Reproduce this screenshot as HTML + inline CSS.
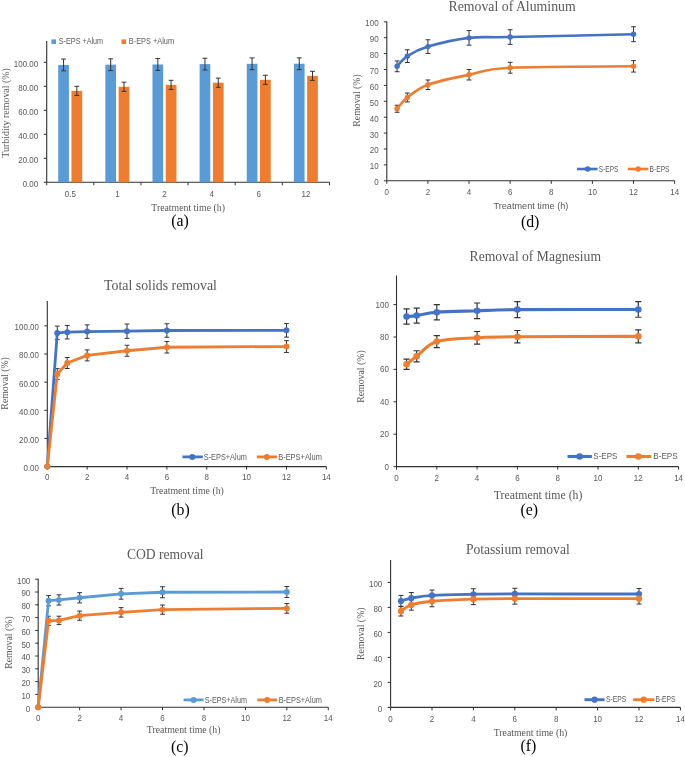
<!DOCTYPE html><html><head><meta charset="utf-8"><style>html,body{margin:0;padding:0;background:#fff;width:685px;height:757px;overflow:hidden}svg{display:block;will-change:transform}</style></head><body>
<svg width="685" height="757" viewBox="0 0 685 757">
<rect width="685" height="757" fill="#fff"/>
<line x1="46.7" y1="41" x2="46.7" y2="182.3" stroke="#303030" stroke-width="1.1"/>
<line x1="46.7" y1="182.3" x2="329.48" y2="182.3" stroke="#303030" stroke-width="1.1"/>
<line x1="43.7" y1="182.30" x2="46.7" y2="182.30" stroke="#303030" stroke-width="1"/>
<text transform="translate(38.2,186.70) scale(0.93,1)" text-anchor="end" font-family="Liberation Sans" font-size="8.6" fill="#595959">0.00</text>
<line x1="43.7" y1="158.30" x2="46.7" y2="158.30" stroke="#303030" stroke-width="1"/>
<text transform="translate(38.2,162.70) scale(0.93,1)" text-anchor="end" font-family="Liberation Sans" font-size="8.6" fill="#595959">20.00</text>
<line x1="43.7" y1="134.30" x2="46.7" y2="134.30" stroke="#303030" stroke-width="1"/>
<text transform="translate(38.2,138.70) scale(0.93,1)" text-anchor="end" font-family="Liberation Sans" font-size="8.6" fill="#595959">40.00</text>
<line x1="43.7" y1="110.30" x2="46.7" y2="110.30" stroke="#303030" stroke-width="1"/>
<text transform="translate(38.2,114.70) scale(0.93,1)" text-anchor="end" font-family="Liberation Sans" font-size="8.6" fill="#595959">60.00</text>
<line x1="43.7" y1="86.30" x2="46.7" y2="86.30" stroke="#303030" stroke-width="1"/>
<text transform="translate(38.2,90.70) scale(0.93,1)" text-anchor="end" font-family="Liberation Sans" font-size="8.6" fill="#595959">80.00</text>
<line x1="43.7" y1="62.30" x2="46.7" y2="62.30" stroke="#303030" stroke-width="1"/>
<text transform="translate(38.2,66.70) scale(0.93,1)" text-anchor="end" font-family="Liberation Sans" font-size="8.6" fill="#595959">100.00</text>
<line x1="46.70" y1="182.3" x2="46.70" y2="185.3" stroke="#303030" stroke-width="1"/>
<line x1="93.83" y1="182.3" x2="93.83" y2="185.3" stroke="#303030" stroke-width="1"/>
<line x1="140.96" y1="182.3" x2="140.96" y2="185.3" stroke="#303030" stroke-width="1"/>
<line x1="188.09" y1="182.3" x2="188.09" y2="185.3" stroke="#303030" stroke-width="1"/>
<line x1="235.22" y1="182.3" x2="235.22" y2="185.3" stroke="#303030" stroke-width="1"/>
<line x1="282.35" y1="182.3" x2="282.35" y2="185.3" stroke="#303030" stroke-width="1"/>
<line x1="329.48" y1="182.3" x2="329.48" y2="185.3" stroke="#303030" stroke-width="1"/>
<rect x="58.22" y="64.94" width="10.70" height="117.36" fill="#5B9BD5"/>
<path d="M63.57,59.06V70.82M61.17,59.06H65.97M61.17,70.82H65.97" stroke="#333333" stroke-width="1" fill="none"/>
<rect x="71.47" y="90.86" width="10.75" height="91.44" fill="#ED7D31"/>
<path d="M76.84,86.30V95.42M74.44,86.30H79.24M74.44,95.42H79.24" stroke="#333333" stroke-width="1" fill="none"/>
<text transform="translate(70.27,196.9) scale(0.93,1)" text-anchor="middle" font-family="Liberation Sans" font-size="8.6" fill="#595959">0.5</text>
<rect x="105.35" y="64.70" width="10.70" height="117.60" fill="#5B9BD5"/>
<path d="M110.70,58.82V70.58M108.30,58.82H113.10M108.30,70.58H113.10" stroke="#333333" stroke-width="1" fill="none"/>
<rect x="118.60" y="86.78" width="10.75" height="95.52" fill="#ED7D31"/>
<path d="M123.97,82.22V91.34M121.57,82.22H126.37M121.57,91.34H126.37" stroke="#333333" stroke-width="1" fill="none"/>
<text transform="translate(117.40,196.9) scale(0.93,1)" text-anchor="middle" font-family="Liberation Sans" font-size="8.6" fill="#595959">1</text>
<rect x="152.47" y="64.46" width="10.70" height="117.84" fill="#5B9BD5"/>
<path d="M157.82,58.58V70.34M155.42,58.58H160.22M155.42,70.34H160.22" stroke="#333333" stroke-width="1" fill="none"/>
<rect x="165.72" y="84.86" width="10.75" height="97.44" fill="#ED7D31"/>
<path d="M171.10,80.30V89.42M168.70,80.30H173.50M168.70,89.42H173.50" stroke="#333333" stroke-width="1" fill="none"/>
<text transform="translate(164.53,196.9) scale(0.93,1)" text-anchor="middle" font-family="Liberation Sans" font-size="8.6" fill="#595959">2</text>
<rect x="199.61" y="64.10" width="10.70" height="118.20" fill="#5B9BD5"/>
<path d="M204.96,58.22V69.98M202.56,58.22H207.36M202.56,69.98H207.36" stroke="#333333" stroke-width="1" fill="none"/>
<rect x="212.86" y="82.70" width="10.75" height="99.60" fill="#ED7D31"/>
<path d="M218.23,78.14V87.26M215.83,78.14H220.63M215.83,87.26H220.63" stroke="#333333" stroke-width="1" fill="none"/>
<text transform="translate(211.66,196.9) scale(0.93,1)" text-anchor="middle" font-family="Liberation Sans" font-size="8.6" fill="#595959">4</text>
<rect x="246.74" y="63.80" width="10.70" height="118.50" fill="#5B9BD5"/>
<path d="M252.09,57.92V69.68M249.69,57.92H254.49M249.69,69.68H254.49" stroke="#333333" stroke-width="1" fill="none"/>
<rect x="259.99" y="79.82" width="10.75" height="102.48" fill="#ED7D31"/>
<path d="M265.36,75.26V84.38M262.96,75.26H267.76M262.96,84.38H267.76" stroke="#333333" stroke-width="1" fill="none"/>
<text transform="translate(258.79,196.9) scale(0.93,1)" text-anchor="middle" font-family="Liberation Sans" font-size="8.6" fill="#595959">6</text>
<rect x="293.87" y="63.74" width="10.70" height="118.56" fill="#5B9BD5"/>
<path d="M299.22,57.86V69.62M296.82,57.86H301.62M296.82,69.62H301.62" stroke="#333333" stroke-width="1" fill="none"/>
<rect x="307.12" y="75.86" width="10.75" height="106.44" fill="#ED7D31"/>
<path d="M312.49,71.30V80.42M310.09,71.30H314.89M310.09,80.42H314.89" stroke="#333333" stroke-width="1" fill="none"/>
<text transform="translate(305.92,196.9) scale(0.93,1)" text-anchor="middle" font-family="Liberation Sans" font-size="8.6" fill="#595959">12</text>
<rect x="51.4" y="39.4" width="4.6" height="4.6" fill="#5B9BD5"/>
<text x="58.8" y="44.4" text-anchor="start" font-family="Liberation Sans" font-size="8.6" fill="#595959" textLength="44.3" lengthAdjust="spacingAndGlyphs">S-EPS +Alum</text>
<rect x="121.5" y="39.4" width="4.6" height="4.6" fill="#ED7D31"/>
<text x="128.8" y="44.4" text-anchor="start" font-family="Liberation Sans" font-size="8.6" fill="#595959" textLength="45.3" lengthAdjust="spacingAndGlyphs">B-EPS +Alum</text>
<text x="188.1" y="210.6" text-anchor="middle" font-family="Liberation Serif" font-size="9.8" fill="#595959">Treatment time (h)</text>
<text transform="translate(8.5,112.9) rotate(-90)" text-anchor="middle" font-family="Liberation Serif" font-size="9.95" fill="#595959">Turbidity removal (%)</text>
<text x="180" y="226" text-anchor="middle" font-family="Liberation Serif" font-size="15.8" fill="#000">(a)</text>
<line x1="47.3" y1="301" x2="47.3" y2="466.6" stroke="#303030" stroke-width="1.1"/>
<line x1="47.3" y1="466.6" x2="326.32" y2="466.6" stroke="#303030" stroke-width="1.1"/>
<line x1="44.3" y1="466.60" x2="47.3" y2="466.60" stroke="#303030" stroke-width="1"/>
<text transform="translate(39,471.00) scale(0.93,1)" text-anchor="end" font-family="Liberation Sans" font-size="8.6" fill="#595959">0.00</text>
<line x1="44.3" y1="438.45" x2="47.3" y2="438.45" stroke="#303030" stroke-width="1"/>
<text transform="translate(39,442.85) scale(0.93,1)" text-anchor="end" font-family="Liberation Sans" font-size="8.6" fill="#595959">20.00</text>
<line x1="44.3" y1="410.30" x2="47.3" y2="410.30" stroke="#303030" stroke-width="1"/>
<text transform="translate(39,414.70) scale(0.93,1)" text-anchor="end" font-family="Liberation Sans" font-size="8.6" fill="#595959">40.00</text>
<line x1="44.3" y1="382.15" x2="47.3" y2="382.15" stroke="#303030" stroke-width="1"/>
<text transform="translate(39,386.55) scale(0.93,1)" text-anchor="end" font-family="Liberation Sans" font-size="8.6" fill="#595959">60.00</text>
<line x1="44.3" y1="354.00" x2="47.3" y2="354.00" stroke="#303030" stroke-width="1"/>
<text transform="translate(39,358.40) scale(0.93,1)" text-anchor="end" font-family="Liberation Sans" font-size="8.6" fill="#595959">80.00</text>
<line x1="44.3" y1="325.85" x2="47.3" y2="325.85" stroke="#303030" stroke-width="1"/>
<text transform="translate(39,330.25) scale(0.93,1)" text-anchor="end" font-family="Liberation Sans" font-size="8.6" fill="#595959">100.00</text>
<line x1="47.30" y1="466.6" x2="47.30" y2="469.6" stroke="#303030" stroke-width="1"/>
<text transform="translate(47.30,480) scale(0.93,1)" text-anchor="middle" font-family="Liberation Sans" font-size="8.6" fill="#595959">0</text>
<line x1="87.16" y1="466.6" x2="87.16" y2="469.6" stroke="#303030" stroke-width="1"/>
<text transform="translate(87.16,480) scale(0.93,1)" text-anchor="middle" font-family="Liberation Sans" font-size="8.6" fill="#595959">2</text>
<line x1="127.02" y1="466.6" x2="127.02" y2="469.6" stroke="#303030" stroke-width="1"/>
<text transform="translate(127.02,480) scale(0.93,1)" text-anchor="middle" font-family="Liberation Sans" font-size="8.6" fill="#595959">4</text>
<line x1="166.88" y1="466.6" x2="166.88" y2="469.6" stroke="#303030" stroke-width="1"/>
<text transform="translate(166.88,480) scale(0.93,1)" text-anchor="middle" font-family="Liberation Sans" font-size="8.6" fill="#595959">6</text>
<line x1="206.74" y1="466.6" x2="206.74" y2="469.6" stroke="#303030" stroke-width="1"/>
<text transform="translate(206.74,480) scale(0.93,1)" text-anchor="middle" font-family="Liberation Sans" font-size="8.6" fill="#595959">8</text>
<line x1="246.60" y1="466.6" x2="246.60" y2="469.6" stroke="#303030" stroke-width="1"/>
<text transform="translate(246.60,480) scale(0.93,1)" text-anchor="middle" font-family="Liberation Sans" font-size="8.6" fill="#595959">10</text>
<line x1="286.46" y1="466.6" x2="286.46" y2="469.6" stroke="#303030" stroke-width="1"/>
<text transform="translate(286.46,480) scale(0.93,1)" text-anchor="middle" font-family="Liberation Sans" font-size="8.6" fill="#595959">12</text>
<line x1="326.32" y1="466.6" x2="326.32" y2="469.6" stroke="#303030" stroke-width="1"/>
<text transform="translate(326.32,480) scale(0.93,1)" text-anchor="middle" font-family="Liberation Sans" font-size="8.6" fill="#595959">14</text>
<path d="M57.27,326.13V339.64M54.87,326.13H59.66M54.87,339.64H59.66" stroke="#333333" stroke-width="1" fill="none"/>
<path d="M67.23,325.43V338.94M64.83,325.43H69.63M64.83,338.94H69.63" stroke="#333333" stroke-width="1" fill="none"/>
<path d="M87.16,324.86V338.38M84.76,324.86H89.56M84.76,338.38H89.56" stroke="#333333" stroke-width="1" fill="none"/>
<path d="M127.02,324.02V338.38M124.62,324.02H129.42M124.62,338.38H129.42" stroke="#333333" stroke-width="1" fill="none"/>
<path d="M166.88,323.74V337.25M164.48,323.74H169.28M164.48,337.25H169.28" stroke="#333333" stroke-width="1" fill="none"/>
<path d="M286.46,323.60V337.11M284.06,323.60H288.86M284.06,337.11H288.86" stroke="#333333" stroke-width="1" fill="none"/>
<path d="M57.27,368.64V379.62M54.87,368.64H59.66M54.87,379.62H59.66" stroke="#333333" stroke-width="1" fill="none"/>
<path d="M67.23,357.52V368.50M64.83,357.52H69.63M64.83,368.50H69.63" stroke="#333333" stroke-width="1" fill="none"/>
<path d="M87.16,349.92V360.90M84.76,349.92H89.56M84.76,360.90H89.56" stroke="#333333" stroke-width="1" fill="none"/>
<path d="M127.02,345.27V356.25M124.62,345.27H129.42M124.62,356.25H129.42" stroke="#333333" stroke-width="1" fill="none"/>
<path d="M166.88,341.47V353.01M164.48,341.47H169.28M164.48,353.01H169.28" stroke="#333333" stroke-width="1" fill="none"/>
<path d="M286.46,340.63V352.45M284.06,340.63H288.86M284.06,352.45H288.86" stroke="#333333" stroke-width="1" fill="none"/>
<path d="M47.30,466.60 L57.27,332.89 L67.23,332.18 L87.16,331.62 L127.02,331.20 L166.88,330.49 L286.46,330.35" stroke="#4472C4" stroke-width="2.8" fill="none" stroke-linejoin="round"/>
<circle cx="47.30" cy="466.60" r="3" fill="#4472C4"/>
<circle cx="57.27" cy="332.89" r="3" fill="#4472C4"/>
<circle cx="67.23" cy="332.18" r="3" fill="#4472C4"/>
<circle cx="87.16" cy="331.62" r="3" fill="#4472C4"/>
<circle cx="127.02" cy="331.20" r="3" fill="#4472C4"/>
<circle cx="166.88" cy="330.49" r="3" fill="#4472C4"/>
<circle cx="286.46" cy="330.35" r="3" fill="#4472C4"/>
<path d="M47.30,466.60 L57.27,374.13 L67.23,363.01 L87.16,355.41 L127.02,350.76 L166.88,347.24 L286.46,346.54" stroke="#ED7D31" stroke-width="2.8" fill="none" stroke-linejoin="round"/>
<circle cx="47.30" cy="466.60" r="3" fill="#ED7D31"/>
<circle cx="57.27" cy="374.13" r="3" fill="#ED7D31"/>
<circle cx="67.23" cy="363.01" r="3" fill="#ED7D31"/>
<circle cx="87.16" cy="355.41" r="3" fill="#ED7D31"/>
<circle cx="127.02" cy="350.76" r="3" fill="#ED7D31"/>
<circle cx="166.88" cy="347.24" r="3" fill="#ED7D31"/>
<circle cx="286.46" cy="346.54" r="3" fill="#ED7D31"/>
<line x1="182.4" y1="456.9" x2="202.8" y2="456.9" stroke="#4472C4" stroke-width="2.8"/>
<circle cx="192.3" cy="456.9" r="3" fill="#4472C4"/>
<text x="203.7" y="459.59999999999997" text-anchor="start" font-family="Liberation Sans" font-size="8.2" fill="#595959" textLength="43.2" lengthAdjust="spacingAndGlyphs">S-EPS+Alum</text>
<line x1="256.8" y1="456.9" x2="277.2" y2="456.9" stroke="#ED7D31" stroke-width="2.8"/>
<circle cx="266.9" cy="456.9" r="3" fill="#ED7D31"/>
<text x="278.2" y="459.59999999999997" text-anchor="start" font-family="Liberation Sans" font-size="8.2" fill="#595959" textLength="43.7" lengthAdjust="spacingAndGlyphs">B-EPS+Alum</text>
<text x="160.5" y="290.4" text-anchor="middle" font-family="Liberation Serif" font-size="13.85" fill="#595959">Total solids removal</text>
<text x="187" y="493.8" text-anchor="middle" font-family="Liberation Serif" font-size="9.8" fill="#595959">Treatment time (h)</text>
<text transform="translate(8.1,383.4) rotate(-90)" text-anchor="middle" font-family="Liberation Serif" font-size="9.8" fill="#595959">Removal (%)</text>
<text x="180.5" y="514.5" text-anchor="middle" font-family="Liberation Serif" font-size="15.8" fill="#000">(b)</text>
<line x1="38.2" y1="578.8" x2="38.2" y2="707.2" stroke="#303030" stroke-width="1.1"/>
<line x1="38.2" y1="707.2" x2="328.28" y2="707.2" stroke="#303030" stroke-width="1.1"/>
<line x1="35.2" y1="707.20" x2="38.2" y2="707.20" stroke="#303030" stroke-width="1"/>
<text transform="translate(30.3,711.60) scale(0.93,1)" text-anchor="end" font-family="Liberation Sans" font-size="8.6" fill="#595959">0</text>
<line x1="35.2" y1="694.40" x2="38.2" y2="694.40" stroke="#303030" stroke-width="1"/>
<text transform="translate(30.3,698.80) scale(0.93,1)" text-anchor="end" font-family="Liberation Sans" font-size="8.6" fill="#595959">10</text>
<line x1="35.2" y1="681.60" x2="38.2" y2="681.60" stroke="#303030" stroke-width="1"/>
<text transform="translate(30.3,686.00) scale(0.93,1)" text-anchor="end" font-family="Liberation Sans" font-size="8.6" fill="#595959">20</text>
<line x1="35.2" y1="668.80" x2="38.2" y2="668.80" stroke="#303030" stroke-width="1"/>
<text transform="translate(30.3,673.20) scale(0.93,1)" text-anchor="end" font-family="Liberation Sans" font-size="8.6" fill="#595959">30</text>
<line x1="35.2" y1="656.00" x2="38.2" y2="656.00" stroke="#303030" stroke-width="1"/>
<text transform="translate(30.3,660.40) scale(0.93,1)" text-anchor="end" font-family="Liberation Sans" font-size="8.6" fill="#595959">40</text>
<line x1="35.2" y1="643.20" x2="38.2" y2="643.20" stroke="#303030" stroke-width="1"/>
<text transform="translate(30.3,647.60) scale(0.93,1)" text-anchor="end" font-family="Liberation Sans" font-size="8.6" fill="#595959">50</text>
<line x1="35.2" y1="630.40" x2="38.2" y2="630.40" stroke="#303030" stroke-width="1"/>
<text transform="translate(30.3,634.80) scale(0.93,1)" text-anchor="end" font-family="Liberation Sans" font-size="8.6" fill="#595959">60</text>
<line x1="35.2" y1="617.60" x2="38.2" y2="617.60" stroke="#303030" stroke-width="1"/>
<text transform="translate(30.3,622.00) scale(0.93,1)" text-anchor="end" font-family="Liberation Sans" font-size="8.6" fill="#595959">70</text>
<line x1="35.2" y1="604.80" x2="38.2" y2="604.80" stroke="#303030" stroke-width="1"/>
<text transform="translate(30.3,609.20) scale(0.93,1)" text-anchor="end" font-family="Liberation Sans" font-size="8.6" fill="#595959">80</text>
<line x1="35.2" y1="592.00" x2="38.2" y2="592.00" stroke="#303030" stroke-width="1"/>
<text transform="translate(30.3,596.40) scale(0.93,1)" text-anchor="end" font-family="Liberation Sans" font-size="8.6" fill="#595959">90</text>
<line x1="35.2" y1="579.20" x2="38.2" y2="579.20" stroke="#303030" stroke-width="1"/>
<text transform="translate(30.3,583.60) scale(0.93,1)" text-anchor="end" font-family="Liberation Sans" font-size="8.6" fill="#595959">100</text>
<line x1="38.20" y1="707.2" x2="38.20" y2="710.2" stroke="#303030" stroke-width="1"/>
<text transform="translate(38.20,721) scale(0.93,1)" text-anchor="middle" font-family="Liberation Sans" font-size="8.6" fill="#595959">0</text>
<line x1="79.64" y1="707.2" x2="79.64" y2="710.2" stroke="#303030" stroke-width="1"/>
<text transform="translate(79.64,721) scale(0.93,1)" text-anchor="middle" font-family="Liberation Sans" font-size="8.6" fill="#595959">2</text>
<line x1="121.08" y1="707.2" x2="121.08" y2="710.2" stroke="#303030" stroke-width="1"/>
<text transform="translate(121.08,721) scale(0.93,1)" text-anchor="middle" font-family="Liberation Sans" font-size="8.6" fill="#595959">4</text>
<line x1="162.52" y1="707.2" x2="162.52" y2="710.2" stroke="#303030" stroke-width="1"/>
<text transform="translate(162.52,721) scale(0.93,1)" text-anchor="middle" font-family="Liberation Sans" font-size="8.6" fill="#595959">6</text>
<line x1="203.96" y1="707.2" x2="203.96" y2="710.2" stroke="#303030" stroke-width="1"/>
<text transform="translate(203.96,721) scale(0.93,1)" text-anchor="middle" font-family="Liberation Sans" font-size="8.6" fill="#595959">8</text>
<line x1="245.40" y1="707.2" x2="245.40" y2="710.2" stroke="#303030" stroke-width="1"/>
<text transform="translate(245.40,721) scale(0.93,1)" text-anchor="middle" font-family="Liberation Sans" font-size="8.6" fill="#595959">10</text>
<line x1="286.84" y1="707.2" x2="286.84" y2="710.2" stroke="#303030" stroke-width="1"/>
<text transform="translate(286.84,721) scale(0.93,1)" text-anchor="middle" font-family="Liberation Sans" font-size="8.6" fill="#595959">12</text>
<line x1="328.28" y1="707.2" x2="328.28" y2="710.2" stroke="#303030" stroke-width="1"/>
<text transform="translate(328.28,721) scale(0.93,1)" text-anchor="middle" font-family="Liberation Sans" font-size="8.6" fill="#595959">14</text>
<path d="M48.56,595.58V605.82M46.16,595.58H50.96M46.16,605.82H50.96" stroke="#333333" stroke-width="1" fill="none"/>
<path d="M58.92,594.82V605.06M56.52,594.82H61.32M56.52,605.06H61.32" stroke="#333333" stroke-width="1" fill="none"/>
<path d="M79.64,592.64V602.88M77.24,592.64H82.04M77.24,602.88H82.04" stroke="#333333" stroke-width="1" fill="none"/>
<path d="M121.08,588.42V599.17M118.68,588.42H123.48M118.68,599.17H123.48" stroke="#333333" stroke-width="1" fill="none"/>
<path d="M162.52,586.75V597.76M160.12,586.75H164.92M160.12,597.76H164.92" stroke="#333333" stroke-width="1" fill="none"/>
<path d="M286.84,586.50V597.50M284.44,586.50H289.24M284.44,597.50H289.24" stroke="#333333" stroke-width="1" fill="none"/>
<path d="M48.56,616.19V625.41M46.16,616.19H50.96M46.16,625.41H50.96" stroke="#333333" stroke-width="1" fill="none"/>
<path d="M58.92,616.19V624.64M56.52,616.19H61.32M56.52,624.64H61.32" stroke="#333333" stroke-width="1" fill="none"/>
<path d="M79.64,611.07V620.29M77.24,611.07H82.04M77.24,620.29H82.04" stroke="#333333" stroke-width="1" fill="none"/>
<path d="M121.08,607.62V617.09M118.68,607.62H123.48M118.68,617.09H123.48" stroke="#333333" stroke-width="1" fill="none"/>
<path d="M162.52,605.06V614.27M160.12,605.06H164.92M160.12,614.27H164.92" stroke="#333333" stroke-width="1" fill="none"/>
<path d="M286.84,603.52V613.25M284.44,603.52H289.24M284.44,613.25H289.24" stroke="#333333" stroke-width="1" fill="none"/>
<path d="M38.20,707.20 L48.56,600.70 L58.92,599.94 L79.64,597.76 L121.08,593.79 L162.52,592.26 L286.84,592.00" stroke="#5B9BD5" stroke-width="2.8" fill="none" stroke-linejoin="round"/>
<circle cx="38.20" cy="707.20" r="3" fill="#5B9BD5"/>
<circle cx="48.56" cy="600.70" r="3" fill="#5B9BD5"/>
<circle cx="58.92" cy="599.94" r="3" fill="#5B9BD5"/>
<circle cx="79.64" cy="597.76" r="3" fill="#5B9BD5"/>
<circle cx="121.08" cy="593.79" r="3" fill="#5B9BD5"/>
<circle cx="162.52" cy="592.26" r="3" fill="#5B9BD5"/>
<circle cx="286.84" cy="592.00" r="3" fill="#5B9BD5"/>
<path d="M38.20,707.20 L48.56,620.80 L58.92,620.42 L79.64,615.68 L121.08,612.35 L162.52,609.66 L286.84,608.38" stroke="#ED7D31" stroke-width="2.8" fill="none" stroke-linejoin="round"/>
<circle cx="38.20" cy="707.20" r="3" fill="#ED7D31"/>
<circle cx="48.56" cy="620.80" r="3" fill="#ED7D31"/>
<circle cx="58.92" cy="620.42" r="3" fill="#ED7D31"/>
<circle cx="79.64" cy="615.68" r="3" fill="#ED7D31"/>
<circle cx="121.08" cy="612.35" r="3" fill="#ED7D31"/>
<circle cx="162.52" cy="609.66" r="3" fill="#ED7D31"/>
<circle cx="286.84" cy="608.38" r="3" fill="#ED7D31"/>
<line x1="183.6" y1="699.9" x2="203.5" y2="699.9" stroke="#5B9BD5" stroke-width="2.8"/>
<circle cx="193.5" cy="699.9" r="3" fill="#5B9BD5"/>
<text x="204.7" y="702.6" text-anchor="start" font-family="Liberation Sans" font-size="8.2" fill="#595959" textLength="42.2" lengthAdjust="spacingAndGlyphs">S-EPS+Alum</text>
<line x1="257.3" y1="699.9" x2="277.2" y2="699.9" stroke="#ED7D31" stroke-width="2.8"/>
<circle cx="267.2" cy="699.9" r="3" fill="#ED7D31"/>
<text x="278.7" y="702.6" text-anchor="start" font-family="Liberation Sans" font-size="8.2" fill="#595959" textLength="43.2" lengthAdjust="spacingAndGlyphs">B-EPS+Alum</text>
<text x="165.2" y="559.4" text-anchor="middle" font-family="Liberation Serif" font-size="13.6" fill="#595959">COD removal</text>
<text x="183.7" y="733.4" text-anchor="middle" font-family="Liberation Serif" font-size="9.8" fill="#595959">Treatment time (h)</text>
<text transform="translate(11.8,642.6) rotate(-90)" text-anchor="middle" font-family="Liberation Serif" font-size="9.8" fill="#595959">Removal (%)</text>
<text x="179.8" y="751.5" text-anchor="middle" font-family="Liberation Serif" font-size="15.8" fill="#000">(c)</text>
<line x1="386.8" y1="21.6" x2="386.8" y2="180.8" stroke="#303030" stroke-width="1.1"/>
<line x1="386.8" y1="180.8" x2="674.64" y2="180.8" stroke="#303030" stroke-width="1.1"/>
<line x1="383.8" y1="180.80" x2="386.8" y2="180.80" stroke="#303030" stroke-width="1"/>
<text transform="translate(378.6,185.20) scale(0.93,1)" text-anchor="end" font-family="Liberation Sans" font-size="8.6" fill="#595959">0</text>
<line x1="383.8" y1="164.90" x2="386.8" y2="164.90" stroke="#303030" stroke-width="1"/>
<text transform="translate(378.6,169.30) scale(0.93,1)" text-anchor="end" font-family="Liberation Sans" font-size="8.6" fill="#595959">10</text>
<line x1="383.8" y1="149.00" x2="386.8" y2="149.00" stroke="#303030" stroke-width="1"/>
<text transform="translate(378.6,153.40) scale(0.93,1)" text-anchor="end" font-family="Liberation Sans" font-size="8.6" fill="#595959">20</text>
<line x1="383.8" y1="133.10" x2="386.8" y2="133.10" stroke="#303030" stroke-width="1"/>
<text transform="translate(378.6,137.50) scale(0.93,1)" text-anchor="end" font-family="Liberation Sans" font-size="8.6" fill="#595959">30</text>
<line x1="383.8" y1="117.20" x2="386.8" y2="117.20" stroke="#303030" stroke-width="1"/>
<text transform="translate(378.6,121.60) scale(0.93,1)" text-anchor="end" font-family="Liberation Sans" font-size="8.6" fill="#595959">40</text>
<line x1="383.8" y1="101.30" x2="386.8" y2="101.30" stroke="#303030" stroke-width="1"/>
<text transform="translate(378.6,105.70) scale(0.93,1)" text-anchor="end" font-family="Liberation Sans" font-size="8.6" fill="#595959">50</text>
<line x1="383.8" y1="85.40" x2="386.8" y2="85.40" stroke="#303030" stroke-width="1"/>
<text transform="translate(378.6,89.80) scale(0.93,1)" text-anchor="end" font-family="Liberation Sans" font-size="8.6" fill="#595959">60</text>
<line x1="383.8" y1="69.50" x2="386.8" y2="69.50" stroke="#303030" stroke-width="1"/>
<text transform="translate(378.6,73.90) scale(0.93,1)" text-anchor="end" font-family="Liberation Sans" font-size="8.6" fill="#595959">70</text>
<line x1="383.8" y1="53.60" x2="386.8" y2="53.60" stroke="#303030" stroke-width="1"/>
<text transform="translate(378.6,58.00) scale(0.93,1)" text-anchor="end" font-family="Liberation Sans" font-size="8.6" fill="#595959">80</text>
<line x1="383.8" y1="37.70" x2="386.8" y2="37.70" stroke="#303030" stroke-width="1"/>
<text transform="translate(378.6,42.10) scale(0.93,1)" text-anchor="end" font-family="Liberation Sans" font-size="8.6" fill="#595959">90</text>
<line x1="383.8" y1="21.80" x2="386.8" y2="21.80" stroke="#303030" stroke-width="1"/>
<text transform="translate(378.6,26.20) scale(0.93,1)" text-anchor="end" font-family="Liberation Sans" font-size="8.6" fill="#595959">100</text>
<line x1="386.80" y1="180.8" x2="386.80" y2="183.8" stroke="#303030" stroke-width="1"/>
<text transform="translate(386.80,195) scale(0.93,1)" text-anchor="middle" font-family="Liberation Sans" font-size="8.6" fill="#595959">0</text>
<line x1="427.92" y1="180.8" x2="427.92" y2="183.8" stroke="#303030" stroke-width="1"/>
<text transform="translate(427.92,195) scale(0.93,1)" text-anchor="middle" font-family="Liberation Sans" font-size="8.6" fill="#595959">2</text>
<line x1="469.04" y1="180.8" x2="469.04" y2="183.8" stroke="#303030" stroke-width="1"/>
<text transform="translate(469.04,195) scale(0.93,1)" text-anchor="middle" font-family="Liberation Sans" font-size="8.6" fill="#595959">4</text>
<line x1="510.16" y1="180.8" x2="510.16" y2="183.8" stroke="#303030" stroke-width="1"/>
<text transform="translate(510.16,195) scale(0.93,1)" text-anchor="middle" font-family="Liberation Sans" font-size="8.6" fill="#595959">6</text>
<line x1="551.28" y1="180.8" x2="551.28" y2="183.8" stroke="#303030" stroke-width="1"/>
<text transform="translate(551.28,195) scale(0.93,1)" text-anchor="middle" font-family="Liberation Sans" font-size="8.6" fill="#595959">8</text>
<line x1="592.40" y1="180.8" x2="592.40" y2="183.8" stroke="#303030" stroke-width="1"/>
<text transform="translate(592.40,195) scale(0.93,1)" text-anchor="middle" font-family="Liberation Sans" font-size="8.6" fill="#595959">10</text>
<line x1="633.52" y1="180.8" x2="633.52" y2="183.8" stroke="#303030" stroke-width="1"/>
<text transform="translate(633.52,195) scale(0.93,1)" text-anchor="middle" font-family="Liberation Sans" font-size="8.6" fill="#595959">12</text>
<line x1="674.64" y1="180.8" x2="674.64" y2="183.8" stroke="#303030" stroke-width="1"/>
<text transform="translate(674.64,195) scale(0.93,1)" text-anchor="middle" font-family="Liberation Sans" font-size="8.6" fill="#595959">14</text>
<path d="M397.08,60.91V71.73M394.68,60.91H399.48M394.68,71.73H399.48" stroke="#333333" stroke-width="1" fill="none"/>
<path d="M407.36,49.78V62.50M404.96,49.78H409.76M404.96,62.50H409.76" stroke="#333333" stroke-width="1" fill="none"/>
<path d="M427.92,39.77V53.44M425.52,39.77H430.32M425.52,53.44H430.32" stroke="#333333" stroke-width="1" fill="none"/>
<path d="M469.04,30.55V45.17M466.64,30.55H471.44M466.64,45.17H471.44" stroke="#333333" stroke-width="1" fill="none"/>
<path d="M510.16,29.75V44.38M507.76,29.75H512.56M507.76,44.38H512.56" stroke="#333333" stroke-width="1" fill="none"/>
<path d="M633.52,26.73V41.68M631.12,26.73H635.92M631.12,41.68H635.92" stroke="#333333" stroke-width="1" fill="none"/>
<path d="M397.08,105.28V112.27M394.68,105.28H399.48M394.68,112.27H399.48" stroke="#333333" stroke-width="1" fill="none"/>
<path d="M407.36,93.03V101.94M404.96,93.03H409.76M404.96,101.94H409.76" stroke="#333333" stroke-width="1" fill="none"/>
<path d="M427.92,79.99V89.53M425.52,79.99H430.32M425.52,89.53H430.32" stroke="#333333" stroke-width="1" fill="none"/>
<path d="M469.04,69.50V79.99M466.64,69.50H471.44M466.64,79.99H471.44" stroke="#333333" stroke-width="1" fill="none"/>
<path d="M510.16,62.34V73.16M507.76,62.34H512.56M507.76,73.16H512.56" stroke="#333333" stroke-width="1" fill="none"/>
<path d="M633.52,60.60V72.04M631.12,60.60H635.92M631.12,72.04H635.92" stroke="#333333" stroke-width="1" fill="none"/>
<path d="M397.08,66.32 C398.79,64.62 402.22,59.43 407.36,56.14 C412.50,52.86 417.64,49.65 427.92,46.60 C438.20,43.56 455.33,39.45 469.04,37.86 C482.75,36.27 482.75,37.67 510.16,37.06 C537.57,36.45 612.96,34.68 633.52,34.20" stroke="#4472C4" stroke-width="2.6" fill="none" stroke-linejoin="round"/>
<circle cx="397.08" cy="66.32" r="2.7" fill="#4472C4"/>
<circle cx="407.36" cy="56.14" r="2.7" fill="#4472C4"/>
<circle cx="427.92" cy="46.60" r="2.7" fill="#4472C4"/>
<circle cx="469.04" cy="37.86" r="2.7" fill="#4472C4"/>
<circle cx="510.16" cy="37.06" r="2.7" fill="#4472C4"/>
<circle cx="633.52" cy="34.20" r="2.7" fill="#4472C4"/>
<path d="M397.08,108.77 C398.79,106.89 402.22,101.49 407.36,97.48 C412.50,93.48 417.64,88.55 427.92,84.76 C438.20,80.97 455.33,77.58 469.04,74.75 C482.75,71.91 482.75,69.16 510.16,67.75 C537.57,66.35 612.96,66.56 633.52,66.32" stroke="#ED7D31" stroke-width="2.6" fill="none" stroke-linejoin="round"/>
<circle cx="397.08" cy="108.77" r="2.7" fill="#ED7D31"/>
<circle cx="407.36" cy="97.48" r="2.7" fill="#ED7D31"/>
<circle cx="427.92" cy="84.76" r="2.7" fill="#ED7D31"/>
<circle cx="469.04" cy="74.75" r="2.7" fill="#ED7D31"/>
<circle cx="510.16" cy="67.75" r="2.7" fill="#ED7D31"/>
<circle cx="633.52" cy="66.32" r="2.7" fill="#ED7D31"/>
<line x1="577" y1="169" x2="597.6" y2="169" stroke="#4472C4" stroke-width="2.6"/>
<circle cx="587.6" cy="169" r="2.7" fill="#4472C4"/>
<text x="598.8" y="171.7" text-anchor="start" font-family="Liberation Sans" font-size="9.0" fill="#595959" textLength="19.5" lengthAdjust="spacingAndGlyphs">S-EPS</text>
<line x1="627.8" y1="169" x2="648.4" y2="169" stroke="#ED7D31" stroke-width="2.6"/>
<circle cx="638.1" cy="169" r="2.7" fill="#ED7D31"/>
<text x="649.6" y="171.7" text-anchor="start" font-family="Liberation Sans" font-size="9.0" fill="#595959" textLength="19.9" lengthAdjust="spacingAndGlyphs">B-EPS</text>
<text x="512.1" y="10.8" text-anchor="middle" font-family="Liberation Serif" font-size="13.8" fill="#595959">Removal of Aluminum</text>
<text x="493.5" y="209.2" text-anchor="start" font-family="Liberation Sans" font-size="9" fill="#595959" textLength="74.8" lengthAdjust="spacingAndGlyphs">Treatment time (h)</text>
<text transform="translate(359.8,100.5) rotate(-90)" text-anchor="middle" font-family="Liberation Serif" font-size="9.8" fill="#595959">Removal (%)</text>
<text x="530.1" y="226.5" text-anchor="middle" font-family="Liberation Serif" font-size="15.8" fill="#000">(d)</text>
<line x1="396.5" y1="275.5" x2="396.5" y2="466.6" stroke="#303030" stroke-width="1.1"/>
<line x1="396.5" y1="466.6" x2="678.5999999999999" y2="466.6" stroke="#303030" stroke-width="1.1"/>
<line x1="393.5" y1="466.60" x2="396.5" y2="466.60" stroke="#303030" stroke-width="1"/>
<text transform="translate(388.9,469.50) scale(0.93,1)" text-anchor="end" font-family="Liberation Sans" font-size="8.6" fill="#595959">0</text>
<line x1="393.5" y1="434.20" x2="396.5" y2="434.20" stroke="#303030" stroke-width="1"/>
<text transform="translate(388.9,437.10) scale(0.93,1)" text-anchor="end" font-family="Liberation Sans" font-size="8.6" fill="#595959">20</text>
<line x1="393.5" y1="401.80" x2="396.5" y2="401.80" stroke="#303030" stroke-width="1"/>
<text transform="translate(388.9,404.70) scale(0.93,1)" text-anchor="end" font-family="Liberation Sans" font-size="8.6" fill="#595959">40</text>
<line x1="393.5" y1="369.40" x2="396.5" y2="369.40" stroke="#303030" stroke-width="1"/>
<text transform="translate(388.9,372.30) scale(0.93,1)" text-anchor="end" font-family="Liberation Sans" font-size="8.6" fill="#595959">60</text>
<line x1="393.5" y1="337.00" x2="396.5" y2="337.00" stroke="#303030" stroke-width="1"/>
<text transform="translate(388.9,339.90) scale(0.93,1)" text-anchor="end" font-family="Liberation Sans" font-size="8.6" fill="#595959">80</text>
<line x1="393.5" y1="304.60" x2="396.5" y2="304.60" stroke="#303030" stroke-width="1"/>
<text transform="translate(388.9,307.50) scale(0.93,1)" text-anchor="end" font-family="Liberation Sans" font-size="8.6" fill="#595959">100</text>
<line x1="396.50" y1="466.6" x2="396.50" y2="469.6" stroke="#303030" stroke-width="1"/>
<text transform="translate(396.50,480.7) scale(0.93,1)" text-anchor="middle" font-family="Liberation Sans" font-size="8.6" fill="#595959">0</text>
<line x1="436.80" y1="466.6" x2="436.80" y2="469.6" stroke="#303030" stroke-width="1"/>
<text transform="translate(436.80,480.7) scale(0.93,1)" text-anchor="middle" font-family="Liberation Sans" font-size="8.6" fill="#595959">2</text>
<line x1="477.10" y1="466.6" x2="477.10" y2="469.6" stroke="#303030" stroke-width="1"/>
<text transform="translate(477.10,480.7) scale(0.93,1)" text-anchor="middle" font-family="Liberation Sans" font-size="8.6" fill="#595959">4</text>
<line x1="517.40" y1="466.6" x2="517.40" y2="469.6" stroke="#303030" stroke-width="1"/>
<text transform="translate(517.40,480.7) scale(0.93,1)" text-anchor="middle" font-family="Liberation Sans" font-size="8.6" fill="#595959">6</text>
<line x1="557.70" y1="466.6" x2="557.70" y2="469.6" stroke="#303030" stroke-width="1"/>
<text transform="translate(557.70,480.7) scale(0.93,1)" text-anchor="middle" font-family="Liberation Sans" font-size="8.6" fill="#595959">8</text>
<line x1="598.00" y1="466.6" x2="598.00" y2="469.6" stroke="#303030" stroke-width="1"/>
<text transform="translate(598.00,480.7) scale(0.93,1)" text-anchor="middle" font-family="Liberation Sans" font-size="8.6" fill="#595959">10</text>
<line x1="638.30" y1="466.6" x2="638.30" y2="469.6" stroke="#303030" stroke-width="1"/>
<text transform="translate(638.30,480.7) scale(0.93,1)" text-anchor="middle" font-family="Liberation Sans" font-size="8.6" fill="#595959">12</text>
<line x1="678.60" y1="466.6" x2="678.60" y2="469.6" stroke="#303030" stroke-width="1"/>
<text transform="translate(678.60,480.7) scale(0.93,1)" text-anchor="middle" font-family="Liberation Sans" font-size="8.6" fill="#595959">14</text>
<path d="M406.57,308.97V324.20M403.47,308.97H409.68M403.47,324.20H409.68" stroke="#333333" stroke-width="1.2" fill="none"/>
<path d="M416.65,308.16V323.07M413.55,308.16H419.75M413.55,323.07H419.75" stroke="#333333" stroke-width="1.2" fill="none"/>
<path d="M436.80,304.60V319.83M433.70,304.60H439.90M433.70,319.83H439.90" stroke="#333333" stroke-width="1.2" fill="none"/>
<path d="M477.10,302.98V318.53M474.00,302.98H480.20M474.00,318.53H480.20" stroke="#333333" stroke-width="1.2" fill="none"/>
<path d="M517.40,301.68V317.56M514.30,301.68H520.50M514.30,317.56H520.50" stroke="#333333" stroke-width="1.2" fill="none"/>
<path d="M638.30,301.68V317.24M635.20,301.68H641.40M635.20,317.24H641.40" stroke="#333333" stroke-width="1.2" fill="none"/>
<path d="M406.57,359.03V369.40M403.47,359.03H409.68M403.47,369.40H409.68" stroke="#333333" stroke-width="1.2" fill="none"/>
<path d="M416.65,350.77V361.79M413.55,350.77H419.75M413.55,361.79H419.75" stroke="#333333" stroke-width="1.2" fill="none"/>
<path d="M436.80,335.54V347.53M433.70,335.54H439.90M433.70,347.53H439.90" stroke="#333333" stroke-width="1.2" fill="none"/>
<path d="M477.10,331.49V344.13M474.00,331.49H480.20M474.00,344.13H480.20" stroke="#333333" stroke-width="1.2" fill="none"/>
<path d="M517.40,330.52V342.83M514.30,330.52H520.50M514.30,342.83H520.50" stroke="#333333" stroke-width="1.2" fill="none"/>
<path d="M638.30,329.87V342.83M635.20,329.87H641.40M635.20,342.83H641.40" stroke="#333333" stroke-width="1.2" fill="none"/>
<path d="M406.57,316.59 C408.25,316.43 411.61,316.34 416.65,315.62 C421.69,314.89 426.73,313.02 436.80,312.21 C446.88,311.40 463.67,311.19 477.10,310.76 C490.53,310.32 490.53,309.84 517.40,309.62 C544.27,309.41 618.15,309.49 638.30,309.46" stroke="#4472C4" stroke-width="3.1" fill="none" stroke-linejoin="round"/>
<circle cx="406.57" cy="316.59" r="3.3" fill="#4472C4"/>
<circle cx="416.65" cy="315.62" r="3.3" fill="#4472C4"/>
<circle cx="436.80" cy="312.21" r="3.3" fill="#4472C4"/>
<circle cx="477.10" cy="310.76" r="3.3" fill="#4472C4"/>
<circle cx="517.40" cy="309.62" r="3.3" fill="#4472C4"/>
<circle cx="638.30" cy="309.46" r="3.3" fill="#4472C4"/>
<path d="M406.57,364.22 C408.25,362.89 411.61,360.06 416.65,356.28 C421.69,352.50 426.73,344.61 436.80,341.54 C446.88,338.46 463.67,338.62 477.10,337.81 C490.53,337.00 490.53,336.92 517.40,336.68 C544.27,336.43 618.15,336.41 638.30,336.35" stroke="#ED7D31" stroke-width="3.1" fill="none" stroke-linejoin="round"/>
<circle cx="406.57" cy="364.22" r="3.3" fill="#ED7D31"/>
<circle cx="416.65" cy="356.28" r="3.3" fill="#ED7D31"/>
<circle cx="436.80" cy="341.54" r="3.3" fill="#ED7D31"/>
<circle cx="477.10" cy="337.81" r="3.3" fill="#ED7D31"/>
<circle cx="517.40" cy="336.68" r="3.3" fill="#ED7D31"/>
<circle cx="638.30" cy="336.35" r="3.3" fill="#ED7D31"/>
<line x1="567.5" y1="456.5" x2="591.9" y2="456.5" stroke="#4472C4" stroke-width="3.1"/>
<circle cx="579.6" cy="456.5" r="3.3" fill="#4472C4"/>
<text x="593.3" y="459.2" text-anchor="start" font-family="Liberation Sans" font-size="9.2" fill="#595959" textLength="24" lengthAdjust="spacingAndGlyphs">S-EPS</text>
<line x1="626.4" y1="456.5" x2="651.1" y2="456.5" stroke="#ED7D31" stroke-width="3.1"/>
<circle cx="638.4" cy="456.5" r="3.3" fill="#ED7D31"/>
<text x="653.3" y="459.2" text-anchor="start" font-family="Liberation Sans" font-size="9.2" fill="#595959" textLength="24.3" lengthAdjust="spacingAndGlyphs">B-EPS</text>
<text x="535.3" y="260.6" text-anchor="middle" font-family="Liberation Serif" font-size="13.6" fill="#595959">Removal of Magnesium</text>
<text x="538.1" y="499.2" text-anchor="middle" font-family="Liberation Serif" font-size="11.8" fill="#595959">Treatment time (h)</text>
<text transform="translate(364.2,376.6) rotate(-90)" text-anchor="middle" font-family="Liberation Serif" font-size="9.8" fill="#595959">Removal (%)</text>
<text x="529.3" y="515.3" text-anchor="middle" font-family="Liberation Serif" font-size="15.8" fill="#000">(e)</text>
<line x1="390.6" y1="560.1" x2="390.6" y2="707.4" stroke="#303030" stroke-width="1.1"/>
<line x1="390.6" y1="707.4" x2="680.4000000000001" y2="707.4" stroke="#303030" stroke-width="1.1"/>
<line x1="387.6" y1="707.40" x2="390.6" y2="707.40" stroke="#303030" stroke-width="1"/>
<text transform="translate(382.3,711.80) scale(0.93,1)" text-anchor="end" font-family="Liberation Sans" font-size="8.6" fill="#595959">0</text>
<line x1="387.6" y1="682.40" x2="390.6" y2="682.40" stroke="#303030" stroke-width="1"/>
<text transform="translate(382.3,686.80) scale(0.93,1)" text-anchor="end" font-family="Liberation Sans" font-size="8.6" fill="#595959">20</text>
<line x1="387.6" y1="657.40" x2="390.6" y2="657.40" stroke="#303030" stroke-width="1"/>
<text transform="translate(382.3,661.80) scale(0.93,1)" text-anchor="end" font-family="Liberation Sans" font-size="8.6" fill="#595959">40</text>
<line x1="387.6" y1="632.40" x2="390.6" y2="632.40" stroke="#303030" stroke-width="1"/>
<text transform="translate(382.3,636.80) scale(0.93,1)" text-anchor="end" font-family="Liberation Sans" font-size="8.6" fill="#595959">60</text>
<line x1="387.6" y1="607.40" x2="390.6" y2="607.40" stroke="#303030" stroke-width="1"/>
<text transform="translate(382.3,611.80) scale(0.93,1)" text-anchor="end" font-family="Liberation Sans" font-size="8.6" fill="#595959">80</text>
<line x1="387.6" y1="582.40" x2="390.6" y2="582.40" stroke="#303030" stroke-width="1"/>
<text transform="translate(382.3,586.80) scale(0.93,1)" text-anchor="end" font-family="Liberation Sans" font-size="8.6" fill="#595959">100</text>
<line x1="390.60" y1="707.4" x2="390.60" y2="710.4" stroke="#303030" stroke-width="1"/>
<text transform="translate(390.60,721.8) scale(0.93,1)" text-anchor="middle" font-family="Liberation Sans" font-size="8.6" fill="#595959">0</text>
<line x1="432.00" y1="707.4" x2="432.00" y2="710.4" stroke="#303030" stroke-width="1"/>
<text transform="translate(432.00,721.8) scale(0.93,1)" text-anchor="middle" font-family="Liberation Sans" font-size="8.6" fill="#595959">2</text>
<line x1="473.40" y1="707.4" x2="473.40" y2="710.4" stroke="#303030" stroke-width="1"/>
<text transform="translate(473.40,721.8) scale(0.93,1)" text-anchor="middle" font-family="Liberation Sans" font-size="8.6" fill="#595959">4</text>
<line x1="514.80" y1="707.4" x2="514.80" y2="710.4" stroke="#303030" stroke-width="1"/>
<text transform="translate(514.80,721.8) scale(0.93,1)" text-anchor="middle" font-family="Liberation Sans" font-size="8.6" fill="#595959">6</text>
<line x1="556.20" y1="707.4" x2="556.20" y2="710.4" stroke="#303030" stroke-width="1"/>
<text transform="translate(556.20,721.8) scale(0.93,1)" text-anchor="middle" font-family="Liberation Sans" font-size="8.6" fill="#595959">8</text>
<line x1="597.60" y1="707.4" x2="597.60" y2="710.4" stroke="#303030" stroke-width="1"/>
<text transform="translate(597.60,721.8) scale(0.93,1)" text-anchor="middle" font-family="Liberation Sans" font-size="8.6" fill="#595959">10</text>
<line x1="639.00" y1="707.4" x2="639.00" y2="710.4" stroke="#303030" stroke-width="1"/>
<text transform="translate(639.00,721.8) scale(0.93,1)" text-anchor="middle" font-family="Liberation Sans" font-size="8.6" fill="#595959">12</text>
<line x1="680.40" y1="707.4" x2="680.40" y2="710.4" stroke="#303030" stroke-width="1"/>
<text transform="translate(680.40,721.8) scale(0.93,1)" text-anchor="middle" font-family="Liberation Sans" font-size="8.6" fill="#595959">14</text>
<path d="M400.95,595.40V606.65M398.45,595.40H403.45M398.45,606.65H403.45" stroke="#333333" stroke-width="1" fill="none"/>
<path d="M411.30,592.52V603.77M408.80,592.52H413.80M408.80,603.77H413.80" stroke="#333333" stroke-width="1" fill="none"/>
<path d="M432.00,590.02V600.77M429.50,590.02H434.50M429.50,600.77H434.50" stroke="#333333" stroke-width="1" fill="none"/>
<path d="M473.40,588.77V599.77M470.90,588.77H475.90M470.90,599.77H475.90" stroke="#333333" stroke-width="1" fill="none"/>
<path d="M514.80,588.27V599.52M512.30,588.27H517.30M512.30,599.52H517.30" stroke="#333333" stroke-width="1" fill="none"/>
<path d="M639.00,588.52V599.52M636.50,588.52H641.50M636.50,599.52H641.50" stroke="#333333" stroke-width="1" fill="none"/>
<path d="M400.95,606.27V616.02M398.45,606.27H403.45M398.45,616.02H403.45" stroke="#333333" stroke-width="1" fill="none"/>
<path d="M411.30,599.65V610.15M408.80,599.65H413.80M408.80,610.15H413.80" stroke="#333333" stroke-width="1" fill="none"/>
<path d="M432.00,595.77V606.77M429.50,595.77H434.50M429.50,606.77H434.50" stroke="#333333" stroke-width="1" fill="none"/>
<path d="M473.40,593.65V604.65M470.90,593.65H475.90M470.90,604.65H475.90" stroke="#333333" stroke-width="1" fill="none"/>
<path d="M514.80,593.15V604.15M512.30,593.15H517.30M512.30,604.15H517.30" stroke="#333333" stroke-width="1" fill="none"/>
<path d="M639.00,593.27V604.02M636.50,593.27H641.50M636.50,604.02H641.50" stroke="#333333" stroke-width="1" fill="none"/>
<path d="M400.95,601.02 C402.68,600.55 406.12,599.09 411.30,598.15 C416.48,597.21 421.65,596.05 432.00,595.40 C442.35,594.75 459.60,594.52 473.40,594.27 C487.20,594.02 487.20,593.94 514.80,593.90 C542.40,593.86 618.30,594.00 639.00,594.02" stroke="#4472C4" stroke-width="2.9" fill="none" stroke-linejoin="round"/>
<circle cx="400.95" cy="601.02" r="3.1" fill="#4472C4"/>
<circle cx="411.30" cy="598.15" r="3.1" fill="#4472C4"/>
<circle cx="432.00" cy="595.40" r="3.1" fill="#4472C4"/>
<circle cx="473.40" cy="594.27" r="3.1" fill="#4472C4"/>
<circle cx="514.80" cy="593.90" r="3.1" fill="#4472C4"/>
<circle cx="639.00" cy="594.02" r="3.1" fill="#4472C4"/>
<path d="M400.95,611.15 C402.68,610.11 406.12,606.55 411.30,604.90 C416.48,603.25 421.65,602.23 432.00,601.27 C442.35,600.32 459.60,599.59 473.40,599.15 C487.20,598.71 487.20,598.73 514.80,598.65 C542.40,598.57 618.30,598.65 639.00,598.65" stroke="#ED7D31" stroke-width="2.9" fill="none" stroke-linejoin="round"/>
<circle cx="400.95" cy="611.15" r="3.1" fill="#ED7D31"/>
<circle cx="411.30" cy="604.90" r="3.1" fill="#ED7D31"/>
<circle cx="432.00" cy="601.27" r="3.1" fill="#ED7D31"/>
<circle cx="473.40" cy="599.15" r="3.1" fill="#ED7D31"/>
<circle cx="514.80" cy="598.65" r="3.1" fill="#ED7D31"/>
<circle cx="639.00" cy="598.65" r="3.1" fill="#ED7D31"/>
<line x1="584.5" y1="699.7" x2="604.6" y2="699.7" stroke="#4472C4" stroke-width="2.9"/>
<circle cx="594.6" cy="699.7" r="3.1" fill="#4472C4"/>
<text x="606" y="702.4000000000001" text-anchor="start" font-family="Liberation Sans" font-size="9.2" fill="#595959" textLength="20.4" lengthAdjust="spacingAndGlyphs">S-EPS</text>
<line x1="633.1" y1="699.7" x2="654.3" y2="699.7" stroke="#ED7D31" stroke-width="2.9"/>
<circle cx="643.7" cy="699.7" r="3.1" fill="#ED7D31"/>
<text x="655.4" y="702.4000000000001" text-anchor="start" font-family="Liberation Sans" font-size="9.2" fill="#595959" textLength="20.1" lengthAdjust="spacingAndGlyphs">B-EPS</text>
<text x="517.8" y="554.1" text-anchor="middle" font-family="Liberation Serif" font-size="13.6" fill="#595959">Potassium removal</text>
<text x="530.5" y="735.5" text-anchor="middle" font-family="Liberation Serif" font-size="9.8" fill="#595959">Treatment time (h)</text>
<text transform="translate(363.6,633.7) rotate(-90)" text-anchor="middle" font-family="Liberation Serif" font-size="9.8" fill="#595959">Removal (%)</text>
<text x="528.5" y="751.2" text-anchor="middle" font-family="Liberation Serif" font-size="15.8" fill="#000">(f)</text>
</svg></body></html>
